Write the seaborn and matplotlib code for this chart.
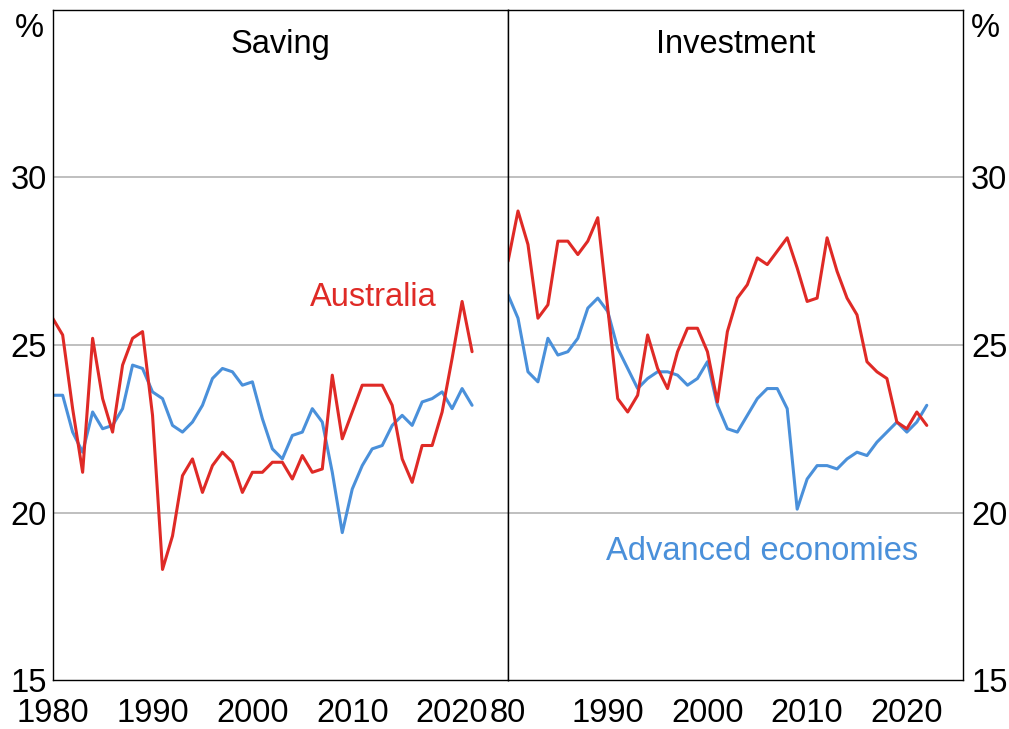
import numpy as np
import pandas as pd
import seaborn as sns
import matplotlib.pyplot as plt

# Data (per cent of GDP)
years = list(range(1980, 2023))

saving_australia = [25.8, 25.3, 23.1, 21.2, 25.2, 23.4, 22.4, 24.4, 25.2, 25.4, 22.9,
                    18.3, 19.3, 21.1, 21.6, 20.6, 21.4, 21.8, 21.5, 20.6, 21.2,
                    21.2, 21.5, 21.5, 21.0, 21.7, 21.2, 21.3, 24.1, 22.2, 23.0,
                    23.8, 23.8, 23.8, 23.2, 21.6, 20.9, 22.0, 22.0, 23.0, 24.6,
                    26.3, 24.8]
saving_advanced = [23.5, 23.5, 22.4, 21.8, 23.0, 22.5, 22.6, 23.1, 24.4, 24.3, 23.6,
                   23.4, 22.6, 22.4, 22.7, 23.2, 24.0, 24.3, 24.2, 23.8, 23.9,
                   22.8, 21.9, 21.6, 22.3, 22.4, 23.1, 22.7, 21.2, 19.4, 20.7,
                   21.4, 21.9, 22.0, 22.6, 22.9, 22.6, 23.3, 23.4, 23.6, 23.1,
                   23.7, 23.2]
investment_australia = [27.5, 29.0, 28.0, 25.8, 26.2, 28.1, 28.1, 27.7, 28.1, 28.8, 26.1,
                        23.4, 23.0, 23.5, 25.3, 24.3, 23.7, 24.8, 25.5, 25.5, 24.8,
                        23.3, 25.4, 26.4, 26.8, 27.6, 27.4, 27.8, 28.2, 27.3, 26.3,
                        26.4, 28.2, 27.2, 26.4, 25.9, 24.5, 24.2, 24.0, 22.7, 22.5,
                        23.0, 22.6]
investment_advanced = [26.5, 25.8, 24.2, 23.9, 25.2, 24.7, 24.8, 25.2, 26.1, 26.4, 26.0,
                       24.9, 24.3, 23.7, 24.0, 24.2, 24.2, 24.1, 23.8, 24.0, 24.5,
                       23.2, 22.5, 22.4, 22.9, 23.4, 23.7, 23.7, 23.1, 20.1, 21.0,
                       21.4, 21.4, 21.3, 21.6, 21.8, 21.7, 22.1, 22.4, 22.7, 22.4,
                       22.7, 23.2]

x_ticks = [1980, 1990, 2000, 2010, 2020]
left_xlabels = ['1980', '1990', '2000', '2010', '2020']
right_xlabels = ['80', '1990', '2000', '2010', '2020']
y_ticks = [15, 20, 25, 30]

red = '#DF2A26'
blue = '#4A90DA'
fs = 23.5

sns.set_style('white')
plt.rcParams['font.family'] = ['Liberation Sans', 'DejaVu Sans']
plt.rcParams['text.color'] = 'black'
plt.rcParams['xtick.color'] = 'black'
plt.rcParams['ytick.color'] = 'black'

saving = pd.DataFrame({'year': years, 'Australia': saving_australia,
                       'Advanced economies': saving_advanced})
investment = pd.DataFrame({'year': years, 'Australia': investment_australia,
                           'Advanced economies': investment_advanced})

fig = plt.figure(figsize=(10.09, 7.29), dpi=100)
ax1 = fig.add_axes([0.0522, 0.0672, 0.4513, 0.9191])
ax2 = fig.add_axes([0.5035, 0.0672, 0.4506, 0.9191])

for ax, df, title in [(ax1, saving, 'Saving'), (ax2, investment, 'Investment')]:
    sns.lineplot(data=df, x='year', y='Advanced economies', color=blue, lw=2.2, ax=ax)
    sns.lineplot(data=df, x='year', y='Australia', color=red, lw=2.2, ax=ax)
    ax.set_xlim(1980, 2025.6)
    ax.set_ylim(15, 35)
    ax.set_yticks(y_ticks)
    ax.set_xticks(x_ticks)
    ax.set_xlabel('')
    ax.set_ylabel('')
    for yv in [20, 25, 30]:
        ax.axhline(yv, color='#b4b4b4', lw=1.2, zorder=0)
    for s in ax.spines.values():
        s.set_color('black')
        s.set_linewidth(1.0)
    ax.tick_params(axis='x', direction='in', length=9.5, width=1.0, labelsize=fs, pad=13)
    ax.tick_params(axis='y', length=0, labelsize=fs, pad=4)
    ax.text(0.5, 0.936, title, transform=ax.transAxes, ha='center', va='baseline', fontsize=fs)

ax1.set_xticklabels(left_xlabels)
ax2.set_xticklabels(right_xlabels)
ax2.yaxis.tick_right()
ax2.tick_params(axis='y', length=0, labelsize=fs, pad=6)

# % unit labels
ax1.annotate('%', xy=(0, 35), xycoords=('axes fraction', 'data'), xytext=(-6, -13),
             textcoords='offset points', ha='right', va='center', fontsize=fs)
ax2.annotate('%', xy=(1, 35), xycoords=('axes fraction', 'data'), xytext=(6, -13),
             textcoords='offset points', ha='left', va='center', fontsize=fs)

# series labels
ax1.text(2012.1, 26.42, 'Australia', color=red, ha='center', va='center', fontsize=fs)
ax2.text(2005.5, 18.84, 'Advanced economies', color=blue, ha='center', va='center', fontsize=fs)

plt.savefig('out.png', dpi=100)
